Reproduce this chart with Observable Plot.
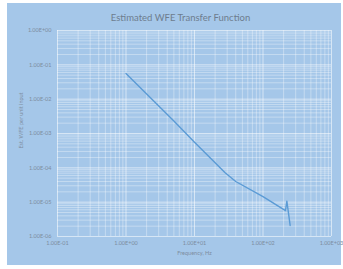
<!DOCTYPE html>
<html>
<head>
<meta charset="utf-8">
<script src="https://cdn.jsdelivr.net/npm/d3@7"></script>
<script src="https://cdn.jsdelivr.net/npm/@observablehq/plot@0.6"></script>
<style>
  html, body { margin: 0; padding: 0; background: #ffffff; }
  #wrap { position: relative; width: 343px; height: 269px; overflow: hidden; }
  #panel { position: absolute; left: 7px; top: 3px; width: 334px; height: 262px; background: #a5c7e9; }
  #chart { position: absolute; left: 0; top: 0; }
</style>
</head>
<body>
<div id="wrap"><div id="panel"></div><div id="chart"></div></div>
<script>
const title = "Estimated WFE Transfer Function";
const xTitle = "Frequency, Hz";
const yTitle = "Est. WFE per unit input";

// Line data
const freq = [1, 5, 10, 20, 28, 40, 100, 213, 223, 249];
const wfe  = [0.056, 2.3e-3, 5.6e-4, 1.4e-4, 7.2e-5, 4.0e-5, 1.45e-5, 5.7e-6, 1.07e-5, 2.1e-6];

// Axis ticks
const xTicks = [0.1, 1, 10, 100, 1000];
const xTickLabels = ["1.00E-01", "1.00E+00", "1.00E+01", "1.00E+02", "1.00E+03"];
const yTicks = [1, 0.1, 0.01, 0.001, 0.0001, 0.00001, 0.000001];
const yTickLabels = ["1.00E+00", "1.00E-01", "1.00E-02", "1.00E-03", "1.00E-04", "1.00E-05", "1.00E-06"];
const minorMultipliers = [2, 3, 4, 5, 6, 7, 8, 9];

const data = freq.map((f, i) => ({f, v: wfe[i]}));
const xMinor = xTicks.slice(0, -1).flatMap(d => minorMultipliers.map(m => d * m));
const yMinor = yTicks.slice(1).flatMap(d => minorMultipliers.map(m => d * m));
const xLab = d => xTickLabels[xTicks.indexOf(d)];
const yLab = d => yTickLabels[yTicks.indexOf(d)];

const textColor = "#7d8da0";
const chart = Plot.plot({
  width: 343,
  height: 269,
  marginLeft: 57,
  marginRight: 12,
  marginTop: 30,
  marginBottom: 33,
  style: {background: "transparent", fontFamily: "Lato, 'Open Sans', sans-serif", color: textColor},
  x: {type: "log", domain: [0.1, 1000]},
  y: {type: "log", domain: [1e-6, 1]},
  marks: [
    Plot.ruleX(xMinor, {stroke: "#ffffff", strokeOpacity: 0.35, strokeWidth: 1}),
    Plot.ruleY(yMinor, {stroke: "#ffffff", strokeOpacity: 0.35, strokeWidth: 1}),
    Plot.ruleX(xTicks, {stroke: "#ffffff", strokeOpacity: 0.55, strokeWidth: 1}),
    Plot.ruleY(yTicks, {stroke: "#ffffff", strokeOpacity: 0.55, strokeWidth: 1}),
    Plot.axisX({ticks: xTicks, tickFormat: xLab, tickSize: 0, tickPadding: 5, fontSize: 5.5, label: null}),
    Plot.axisY({ticks: yTicks, tickFormat: yLab, tickSize: 0, tickPadding: 6, fontSize: 5.5, label: null}),
    Plot.line(data, {x: "f", y: "v", stroke: "#5b9bd5", strokeWidth: 1.4}),
    Plot.text([title], {frameAnchor: "top", dx: -14, dy: -16, fontSize: 9.5, fill: "#6e7d8e"}),
    Plot.text([xTitle], {frameAnchor: "bottom", dy: 18, fontSize: 5.5, fill: textColor}),
    Plot.text([yTitle], {frameAnchor: "left", textAnchor: "middle", dx: -36, dy: -13, rotate: -90, fontSize: 5.5, fill: textColor})
  ]
});
document.getElementById("chart").appendChild(chart);
</script>
</body>
</html>
